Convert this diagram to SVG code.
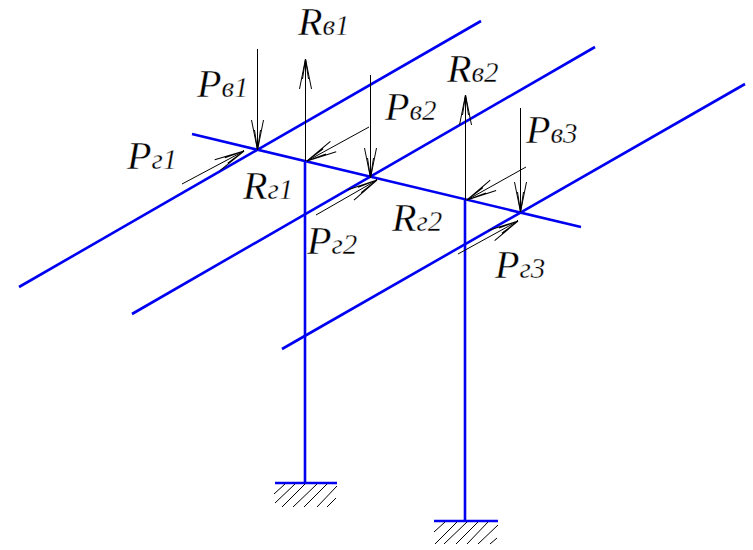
<svg xmlns="http://www.w3.org/2000/svg" width="753" height="550" viewBox="0 0 753 550">
<style>
.b{stroke:#0000f0;stroke-width:2.6;fill:none}
.a{stroke:#000;stroke-width:1;fill:none;marker-end:url(#h)}
.t{stroke:#000;stroke-width:1;fill:none}
text{font-family:"Liberation Serif","Times New Roman",serif;font-style:italic;font-size:40px;fill:#000;stroke:#fff;stroke-width:.35}
.s{font-size:29px}
</style>
<defs>
<marker id="h" markerUnits="userSpaceOnUse" markerWidth="34" markerHeight="16" refX="32" refY="8" orient="auto" overflow="visible">
<path d="M2,2 L32,8 L2,14 M12,5 L32,8 L12,11" fill="none" stroke="#000" stroke-width="1"/>
</marker>
</defs>
<rect width="753" height="550" fill="#fff"/>
<g id="beams">
<path class="b" d="M19,287 L481,21"/>
<path class="b" d="M132,314 L595,47"/>
<path class="b" d="M282,349 L745,84"/>
<path class="b" d="M192,134 L581,227"/>
</g>
<g id="columns">
<path class="b" d="M305,161 V483"/>
<path class="b" d="M465,200 V521"/>
</g>
<g id="support1">
<path class="b" d="M275,483 H337"/>
<path class="t" d="M274,494 L285,484 M275,503 L295,484 M282,507 L305,484 M293,507 L317,484 M304,507 L327,484 M317,507 L337,486 M327,507 L336,498"/>
</g>
<g id="support2">
<path class="b" d="M434,521 H498"/>
<path class="t" d="M434,532 L445,522 M435,544 L457,522 M444,544 L467,522 M456,544 L478,522 M467,544 L488,522 M478,544 L498,525 M490,544 L497,538"/>
</g>
<g id="connectors">
<path class="a" d="M257.5,49 V150"/>
<path class="a" d="M305.5,161 V59"/>
<path class="a" d="M370.5,75 V178"/>
<path class="a" d="M465.5,200 V95"/>
<path class="a" d="M520.5,108 V212"/>
<path class="a" d="M182,184 L244,151"/>
<path class="a" d="M369,127 L307,161"/>
<path class="a" d="M316,215 L377,180"/>
<path class="a" d="M526,167 L467,200"/>
<path class="a" d="M458,254 L518,221"/>
</g>
<g id="labels">
<text x="298" y="35">R<tspan class="s">в1</tspan></text>
<text x="197" y="97">P<tspan class="s">в1</tspan></text>
<text x="127" y="169">P<tspan class="s">г1</tspan></text>
<text x="243" y="199">R<tspan class="s">г1</tspan></text>
<text x="307" y="254">P<tspan class="s">г2</tspan></text>
<text x="385" y="120">P<tspan class="s">в2</tspan></text>
<text x="447" y="82">R<tspan class="s">в2</tspan></text>
<text x="526" y="143">P<tspan class="s">в3</tspan></text>
<text x="392" y="231">R<tspan class="s">г2</tspan></text>
<text x="495" y="278">P<tspan class="s">г3</tspan></text>
</g>
</svg>
